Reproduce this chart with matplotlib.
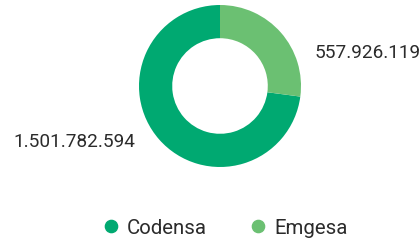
import matplotlib.pyplot as plt
from matplotlib.lines import Line2D

plt.rcParams['font.family'] = ['Roboto', 'DejaVu Sans']

names = ['Codensa', 'Emgesa']
values = [1501782594, 557926119]
labels = ['1.501.782.594', '557.926.119']
colors = ['#00a971', '#6bc072']
textcol = '#2b2b2b'

W, H = 420, 243
fig = plt.figure(figsize=(W / 100, H / 100), dpi=100)

# donut box in pixels: center (220, 86), radius 81
cx, cy, r = 220, 86, 81
ax = fig.add_axes([(cx - r) / W, (H - cy - r) / H, 2 * r / W, 2 * r / H])
ax.pie(values, colors=colors, startangle=90, counterclock=True,
       radius=1, wedgeprops=dict(width=0.41, edgecolor='none'))
ax.set_xlim(-1, 1)
ax.set_ylim(-1, 1)
ax.axis('off')

fig.text(315 / W, (H - 53) / H, labels[1], ha='left', va='center',
         fontsize=13.7, color=textcol)
fig.text(135 / W, (H - 142) / H, labels[0], ha='right', va='center',
         fontsize=13.7, color=textcol)

handles = [Line2D([], [], marker='o', linestyle='none', markersize=8.8,
                  markerfacecolor=c, markeredgecolor=c) for c in colors]
fig.legend(handles, names, loc='center', bbox_to_anchor=(224 / W, (H - 228) / H),
           ncol=2, frameon=False, fontsize=14.7, labelcolor=textcol,
           handletextpad=0.3, columnspacing=2.0, handlelength=1.0,
           borderpad=0, borderaxespad=0)

fig.savefig('out.png', dpi=100)
